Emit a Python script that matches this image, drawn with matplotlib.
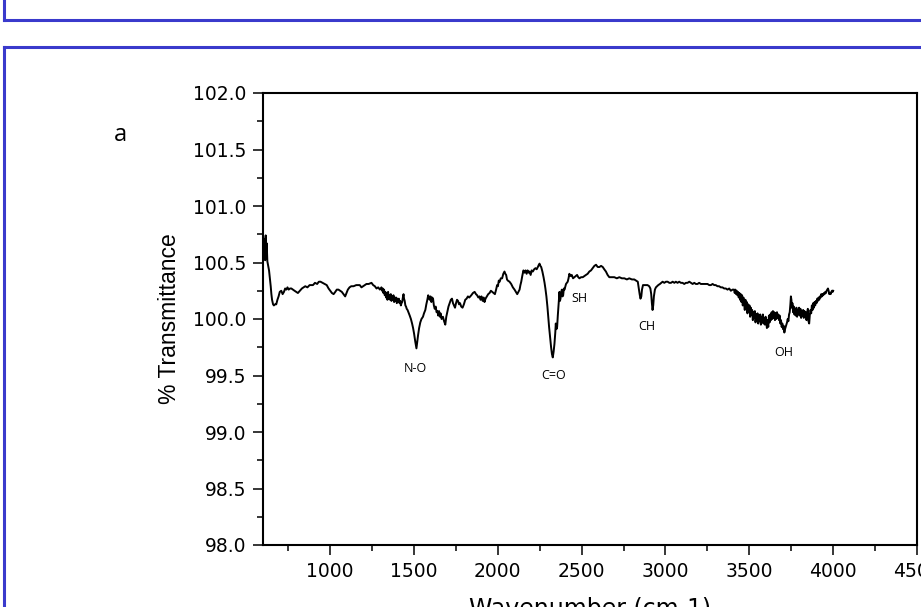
import matplotlib
matplotlib.use('Agg')
import matplotlib.pyplot as plt
from matplotlib.lines import Line2D
from matplotlib.ticker import MultipleLocator, FormatStrFormatter

# FTIR spectrum (cm-1, % T)
wavenumber = [
    602, 606, 610, 613, 616, 619, 622, 626, 631, 636, 641, 646, 650, 654, 660, 665, 672, 679, 686, 693,
    700, 709, 717, 725, 732, 739, 746, 753, 761, 769, 778, 788, 798, 808, 820, 832, 842, 852, 865, 878,
    888, 898, 910, 923, 933, 943, 955, 967, 980, 991, 1001, 1011, 1021, 1031, 1040, 1050, 1060, 1070, 1080, 1090,
    1098, 1106, 1116, 1126, 1140, 1156, 1166, 1177, 1187, 1197, 1207, 1217, 1230, 1247, 1257, 1267, 1277, 1287, 1297, 1306,
    1310, 1314, 1318, 1322, 1326, 1330, 1334, 1338, 1342, 1346,
    1350, 1354, 1358, 1362, 1366, 1370, 1374, 1378, 1382, 1386,
    1390, 1394, 1398, 1402, 1406, 1410, 1414, 1418, 1422, 1426,
    1430, 1434, 1438, 1441, 1445, 1449, 1453, 1457, 1462, 1470,
    1475, 1482, 1489, 1495, 1501, 1508, 1515, 1520, 1525, 1531, 1538, 1545, 1554,
    1560, 1568, 1574, 1580, 1585, 1588, 1594, 1599, 1604, 1609, 1614, 1619, 1624, 1630, 1635, 1640, 1645, 1650, 1655, 1659,
    1665, 1673, 1680, 1687, 1693, 1699, 1706, 1713, 1720, 1727, 1733, 1739, 1745, 1751, 1757, 1763, 1769, 1775, 1782, 1790,
    1798, 1806, 1814, 1822, 1830, 1842, 1852, 1862, 1870, 1877, 1884, 1891, 1897, 1903, 1910, 1916, 1921, 1927, 1935, 1943,
    1951, 1959, 1967, 1975, 1983, 1990, 1996, 2001, 2006, 2011, 2018, 2026, 2033, 2040, 2045, 2050, 2055, 2060, 2070, 2080,
    2090, 2100, 2108, 2116, 2123, 2130, 2135, 2140, 2146, 2153, 2160, 2166, 2172, 2178, 2184, 2189, 2196, 2202, 2209, 2217,
    2225, 2232, 2239, 2245, 2249, 2254, 2259, 2266, 2273, 2279, 2284, 2290, 2296, 2301, 2306, 2312, 2318, 2323, 2328, 2333,
    2338, 2343, 2346, 2350, 2354, 2358, 2362, 2366, 2368, 2371, 2374, 2378, 2382, 2386, 2390, 2394, 2398, 2403, 2407, 2412,
    2417, 2422, 2427, 2434, 2441, 2449, 2457, 2465, 2473, 2480, 2487, 2497, 2507, 2516, 2526, 2536, 2546, 2556, 2566, 2576,
    2586, 2596, 2606, 2616, 2626, 2635, 2645, 2655, 2665, 2680, 2695, 2710, 2725, 2740, 2755, 2770, 2784, 2800, 2814, 2825,
    2835, 2840, 2846, 2851, 2856, 2860, 2866, 2874, 2883, 2893, 2903, 2910, 2915, 2919, 2923, 2927, 2931, 2937, 2943, 2950,
    2957, 2967, 2975, 2983, 2993, 3003, 3013, 3023, 3033, 3043, 3053, 3062, 3072, 3082, 3092, 3102, 3112, 3122, 3132, 3142,
    3152, 3162, 3172, 3181, 3191, 3201, 3211, 3221, 3231, 3241, 3251, 3261, 3271, 3281, 3291, 3300, 3310, 3320, 3330, 3340,
    3350, 3360, 3370, 3380, 3390, 3400,
    3409, 3413, 3417, 3421, 3425, 3429, 3433, 3437, 3441, 3445,
    3449, 3453, 3457, 3461, 3465, 3469, 3473, 3477, 3481, 3485,
    3489, 3493, 3497, 3501, 3505, 3509, 3513, 3517, 3521, 3525,
    3529, 3533, 3537, 3541, 3545, 3549, 3553, 3557, 3561, 3565,
    3569, 3573, 3577, 3581, 3585, 3589, 3593, 3597, 3601, 3605,
    3609, 3613, 3617, 3621, 3625, 3629, 3633, 3637, 3641, 3645,
    3649, 3653, 3657, 3661, 3665, 3669, 3673, 3677, 3681, 3685,
    3689, 3693, 3697, 3701, 3705, 3709, 3713, 3717, 3721, 3725,
    3729, 3733, 3737, 3741, 3745, 3748, 3751, 3754, 3757, 3761,
    3765, 3769, 3773, 3777, 3781, 3785, 3789, 3793, 3797, 3801,
    3805, 3809, 3813, 3817, 3821, 3825, 3829, 3833, 3837, 3841,
    3845, 3849, 3853, 3857, 3861, 3865, 3869, 3873, 3877, 3881,
    3885, 3889, 3893, 3897, 3901, 3905, 3909, 3913, 3917, 3921,
    3925, 3929, 3933, 3937, 3941, 3945, 3949, 3953, 3957, 3961,
    3965, 3969, 3973, 3977, 3981, 3985, 3989, 3993, 3997, 4000,
]
transmittance = [
    100.58, 100.66, 100.71, 100.52, 100.74, 100.55, 100.67, 100.51, 100.47, 100.43, 100.36, 100.29, 100.22, 100.17, 100.13, 100.12, 100.13, 100.13, 100.17, 100.20,
    100.24, 100.25, 100.22, 100.24, 100.27, 100.26, 100.28, 100.26, 100.27, 100.27, 100.26, 100.25, 100.24, 100.23, 100.25, 100.27, 100.28, 100.29, 100.28, 100.30,
    100.30, 100.30, 100.32, 100.31, 100.33, 100.33, 100.32, 100.31, 100.30, 100.27, 100.25, 100.23, 100.22, 100.24, 100.26, 100.26, 100.25, 100.24, 100.22, 100.20,
    100.23, 100.26, 100.28, 100.29, 100.29, 100.30, 100.30, 100.30, 100.28, 100.29, 100.30, 100.31, 100.31, 100.32, 100.30, 100.29, 100.27, 100.28, 100.26, 100.28,
    100.25, 100.27, 100.23, 100.26, 100.21, 100.24, 100.19, 100.23, 100.17, 100.24,
    100.18, 100.21, 100.17, 100.22, 100.16, 100.20, 100.17, 100.21, 100.15, 100.19,
    100.16, 100.19, 100.14, 100.18, 100.15, 100.18, 100.14, 100.16, 100.12, 100.14,
    100.15, 100.19, 100.22, 100.18, 100.16, 100.12, 100.11, 100.09, 100.08, 100.05,
    100.03, 100.00, 99.96, 99.92, 99.87, 99.80, 99.74, 99.80, 99.86, 99.92, 99.97, 100.00, 100.02,
    100.05, 100.08, 100.13, 100.17, 100.21, 100.20, 100.17, 100.20, 100.15, 100.19, 100.18, 100.12, 100.09, 100.11, 100.06, 100.07, 100.03, 100.07, 100.02, 100.05,
    100.00, 100.02, 99.98, 99.95, 100.02, 100.06, 100.11, 100.14, 100.17, 100.18, 100.14, 100.12, 100.10, 100.14, 100.17, 100.16, 100.13, 100.14, 100.11, 100.10,
    100.13, 100.17, 100.18, 100.20, 100.19, 100.21, 100.23, 100.24, 100.22, 100.21, 100.19, 100.20, 100.17, 100.20, 100.16, 100.19, 100.15, 100.18, 100.20, 100.22,
    100.23, 100.25, 100.24, 100.23, 100.22, 100.26, 100.30, 100.29, 100.34, 100.33, 100.36, 100.36, 100.40, 100.42, 100.40, 100.39, 100.35, 100.34, 100.33, 100.31,
    100.28, 100.26, 100.24, 100.22, 100.24, 100.26, 100.30, 100.33, 100.38, 100.43, 100.41, 100.43, 100.40, 100.43, 100.41, 100.42, 100.39, 100.43, 100.42, 100.44,
    100.45, 100.44, 100.46, 100.48, 100.49, 100.47, 100.46, 100.42, 100.37, 100.32, 100.27, 100.20, 100.11, 100.02, 99.93, 99.84, 99.75, 99.69, 99.66, 99.71,
    99.78, 99.88, 99.96, 99.91, 99.93, 100.03, 100.11, 100.20, 100.24, 100.16, 100.18, 100.23, 100.26, 100.20, 100.21, 100.27, 100.26, 100.29, 100.31, 100.32,
    100.33, 100.36, 100.40, 100.38, 100.39, 100.36, 100.37, 100.38, 100.39, 100.37, 100.36, 100.37, 100.37, 100.38, 100.39, 100.40, 100.42, 100.43, 100.45, 100.47,
    100.48, 100.46, 100.46, 100.47, 100.46, 100.44, 100.42, 100.39, 100.37, 100.37, 100.37, 100.36, 100.37, 100.36, 100.36, 100.35, 100.36, 100.35, 100.35, 100.34,
    100.33, 100.28, 100.22, 100.18, 100.20, 100.26, 100.30, 100.30, 100.30, 100.30, 100.29, 100.27, 100.22, 100.14, 100.08, 100.12, 100.20, 100.26, 100.28, 100.29,
    100.30, 100.31, 100.32, 100.33, 100.32, 100.33, 100.33, 100.32, 100.32, 100.33, 100.32, 100.33, 100.32, 100.33, 100.32, 100.32, 100.31, 100.32, 100.32, 100.33,
    100.32, 100.31, 100.32, 100.31, 100.31, 100.32, 100.31, 100.31, 100.31, 100.31, 100.31, 100.30, 100.30, 100.31, 100.30, 100.30, 100.29, 100.29, 100.28, 100.28,
    100.27, 100.27, 100.26, 100.27, 100.25, 100.26,
    100.26, 100.23, 100.26, 100.22, 100.25, 100.21, 100.24, 100.19, 100.23, 100.17,
    100.22, 100.15, 100.21, 100.12, 100.19, 100.14, 100.08, 100.17, 100.10, 100.15,
    100.05, 100.13, 100.07, 100.12, 100.02, 100.10, 100.04, 100.08, 99.99, 100.06,
    100.01, 100.07, 99.97, 100.04, 99.99, 100.05, 99.96, 100.03, 99.98, 100.04,
    99.95, 100.02, 99.97, 100.04, 99.96, 100.01, 99.95, 100.02, 99.97, 99.92,
    99.99, 99.93, 100.03, 99.97, 100.04, 99.99, 100.06, 100.00, 100.07, 100.01,
    100.06, 99.99, 100.05, 100.00, 100.06, 100.01, 100.04, 99.99, 100.03, 99.96,
    99.99, 99.93, 99.96, 99.91, 99.94, 99.88, 99.91, 99.93, 99.95, 99.97,
    100.00, 99.98, 100.04, 100.06, 100.13, 100.20, 100.17, 100.10, 100.14, 100.06,
    100.11, 100.04, 100.09, 100.03, 100.10, 100.02, 100.08, 100.04, 100.10, 100.03,
    100.09, 100.01, 100.07, 100.03, 100.08, 100.01, 100.07, 100.02, 100.06, 99.99,
    100.05, 100.09, 99.98, 99.96, 100.04, 100.08, 100.05, 100.12, 100.08, 100.14,
    100.10, 100.15, 100.12, 100.16, 100.14, 100.18, 100.16, 100.19, 100.17, 100.20,
    100.19, 100.22, 100.20, 100.22, 100.21, 100.23, 100.22, 100.24, 100.23, 100.25,
    100.26, 100.27, 100.25, 100.22, 100.23, 100.22, 100.24, 100.25, 100.24, 100.25,
]

# band labels: text, wavenumber, transmittance
band_names = ['N-O', 'C=O', 'SH', 'CH', 'OH']
band_x = [1509, 2332, 2487, 2890, 3703]
band_y = [99.56, 99.50, 100.185, 99.93, 99.70]

W, H = 921, 607
fig = plt.figure(figsize=(W / 100, H / 100), dpi=100)
ax = fig.add_axes([263 / W, 62 / H, 654 / W, 452 / H])

ax.plot(wavenumber, transmittance, color='black', linewidth=1.4)

ax.set_xlim(600, 4500)
ax.set_ylim(98.0, 102.0)
ax.set_xticks([1000, 1500, 2000, 2500, 3000, 3500, 4000, 4500])
ax.xaxis.set_minor_locator(MultipleLocator(250))
ax.yaxis.set_major_locator(MultipleLocator(0.5))
ax.yaxis.set_minor_locator(MultipleLocator(0.25))
ax.yaxis.set_major_formatter(FormatStrFormatter('%.1f'))

for s in ax.spines.values():
    s.set_linewidth(1.5)
ax.tick_params(which='major', direction='out', length=7, width=1.1, pad=5,
               labelsize=13.5, top=False, right=False)
ax.tick_params(which='minor', direction='out', length=4, width=1.1, top=False, right=False)
for lab in ax.get_xticklabels() + ax.get_yticklabels():
    lab.set_family('DejaVu Sans')

ax.set_ylabel('% Transmittance', family='Liberation Sans', fontsize=16.5)
ax.yaxis.set_label_coords(-0.125, 0.5)
ax.set_xlabel('Wavenumber (cm-1)', family='DejaVu Sans', fontsize=17, va='top')
ax.xaxis.set_label_coords(0.5, -0.113)

for name, x, y in zip(band_names, band_x, band_y):
    ax.text(x, y, name, ha='center', va='center', fontsize=9, family='Open Sans')

fig.text(120 / W, 1 - 135 / H, 'a', ha='center', va='center', fontsize=17, family='Open Sans')

# blue frames of the surrounding page
blue = '#3a3acc'
def px_line(x0, y0, x1, y1):
    fig.add_artist(Line2D([x0 / W, x1 / W], [1 - y0 / H, 1 - y1 / H],
                          transform=fig.transFigure, color=blue, linewidth=2.2,
                          solid_capstyle='projecting'))

px_line(4, -5, 4, 20)
px_line(4, 20, W + 5, 20)
px_line(4, 47, W + 5, 47)
px_line(4, 47, 4, H + 5)

fig.savefig('out.png', dpi=100)
